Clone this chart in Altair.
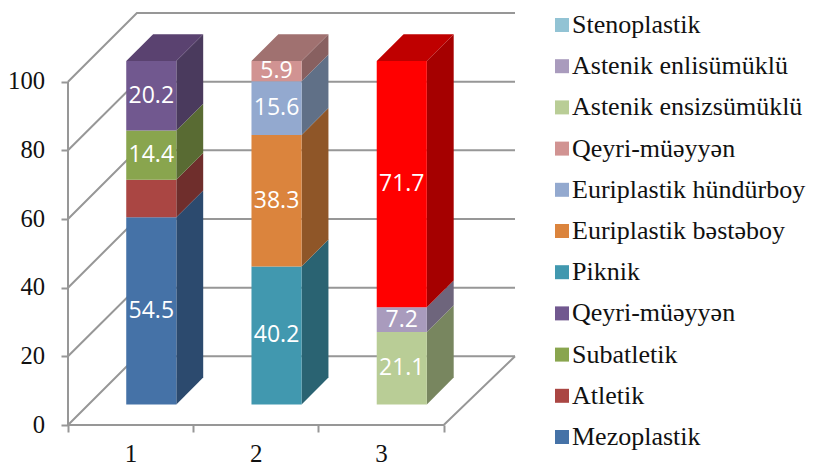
import altair as alt
import pandas as pd

categories = [1, 2, 3]
y_ticks = [0, 20, 40, 60, 80, 100]

bar_series = [
    ["Mezoplastik", "Atletik", "Subatletik", "Qeyri-müəyyən"],
    ["Piknik", "Euriplastik bəstəboy", "Euriplastik hündürboy", "Qeyri-müəyyən "],
    ["Astenik ensizsümüklü", "Astenik enlisümüklü", "Stenoplastik-red"],
]
bar_values = [
    [54.5, 10.9, 14.4, 20.2],
    [40.2, 38.3, 15.6, 5.9],
    [21.1, 7.2, 71.7],
]
bar_labels = [
    ["54.5", "", "14.4", "20.2"],
    ["40.2", "38.3", "15.6", "5.9"],
    ["21.1", "7.2", "71.7"],
]

legend_names = [
    "Stenoplastik", "Astenik enlisümüklü", "Astenik ensizsümüklü", "Qeyri-müəyyən ",
    "Euriplastik hündürboy", "Euriplastik bəstəboy", "Piknik", "Qeyri-müəyyən",
    "Subatletik", "Atletik", "Mezoplastik",
]
legend_colors = [
    "#92C3D4", "#A99BBD", "#B9CD96", "#D19392",
    "#93A9CF", "#DB843D", "#4198AF", "#71588F",
    "#89A54E", "#AA4643", "#4572A7",
]
side_color = {
    "Mezoplastik": "#2C4A6E", "Atletik": "#6F2E2C", "Subatletik": "#596B33",
    "Qeyri-müəyyən": "#4A3A5D", "Piknik": "#2A6372", "Euriplastik bəstəboy": "#8F5628",
    "Euriplastik hündürboy": "#607087", "Qeyri-müəyyən ": "#886060",
    "Astenik ensizsümüklü": "#78865F", "Astenik enlisümüklü": "#6E657C",
    "Stenoplastik-red": "#A50000",
}
top_color = {"Qeyri-müəyyən": "#5A4270", "Qeyri-müəyyən ": "#A07170", "Stenoplastik-red": "#BF0000"}

# oblique projection of the 3D box: depth d shifts a point right and up
DX, DY = 0.55, 20.0
BAR_W, D_FRONT, D_DEPTH = 0.40, 0.30, 0.39
XMAX = 3.569
GRID = "#979797"
SERIF = "Liberation Serif"

grid_rows = []
for v in y_ticks:
    grid_rows += [
        dict(g=f"g{v}", o=0, x=0, y=v),
        dict(g=f"g{v}", o=1, x=DX, y=v + DY),
        dict(g=f"g{v}", o=2, x=XMAX, y=v + DY),
    ]
grid_rows += [dict(g="wall", o=0, x=0, y=0), dict(g="wall", o=1, x=0, y=100)]
grid_rows += [dict(g="floor", o=0, x=0, y=0), dict(g="floor", o=1, x=3, y=0), dict(g="floor", o=2, x=XMAX, y=DY)]

front_rows, side_rows, top_rows, text_rows = [], [], [], []
for i, cat in enumerate(categories):
    x0 = i + 0.5 - BAR_W / 2 + DX * D_FRONT
    x1 = x0 + BAR_W
    base = DY * D_FRONT
    dxb, dyb = DX * D_DEPTH, DY * D_DEPTH
    acc = 0.0
    for name, val, lab in zip(bar_series[i], bar_values[i], bar_labels[i]):
        y0, y1 = base + acc, base + acc + val
        front_rows.append(dict(series=name, x=x0, x2=x1, y=y0, y2=y1))
        side_rows += [
            dict(c=side_color[name], x=x1, y=y0, y2=y1),
            dict(c=side_color[name], x=x1 + dxb, y=y0 + dyb, y2=y1 + dyb),
        ]
        if lab:
            text_rows.append(dict(t=lab, x=(x0 + x1) / 2, y=(y0 + y1) / 2))
        acc += val
    top = base + acc
    c = top_color[bar_series[i][-1]]
    top_rows += [
        dict(c=c, x=x0, y=top, y2=top),
        dict(c=c, x=x0 + dxb, y=top, y2=top + dyb),
        dict(c=c, x=x1, y=top, y2=top + dyb),
        dict(c=c, x=x1 + dxb, y=top + dyb, y2=top + dyb),
    ]

xs = alt.Scale(domain=[0, XMAX], nice=False, zero=False)
ys = alt.Scale(domain=[0, 120], nice=False, zero=False)

x_axis = alt.Axis(
    values=[0, 0.5, 1, 1.5, 2, 2.5, 3], title=None, domain=False, grid=False,
    tickColor=GRID, tickWidth=2, tickSize=7,
    tickOpacity={"condition": {"test": "datum.value % 1 == 0", "value": 1}, "value": 0},
    labelExpr="datum.value % 1 == 0.5 ? ceil(datum.value) : ''",
    labelFont=SERIF, labelFontSize=25, labelColor="#111111", labelPadding=9,
    labelOverlap=False, labelBound=False, labelFlush=False,
)
y_axis = alt.Axis(
    values=y_ticks, title=None, domain=False, grid=False,
    tickColor=GRID, tickWidth=2, tickSize=7,
    labelFont=SERIF, labelFontSize=24.6, labelColor="#111111", labelPadding=16.5,
)
X = alt.X("x:Q", scale=xs, axis=x_axis)
Y = alt.Y("y:Q", scale=ys, axis=y_axis)

grid = alt.Chart(pd.DataFrame(grid_rows)).mark_line(color=GRID, strokeWidth=2).encode(
    x=X, y=Y, detail="g:N", order="o:Q",
)
sides = alt.Chart(pd.DataFrame(side_rows)).mark_area(orient="vertical", opacity=1).encode(
    x=X, y=Y, y2="y2:Q", color=alt.Color("c:N", scale=None),
)
tops = alt.Chart(pd.DataFrame(top_rows)).mark_area(orient="vertical", opacity=1).encode(
    x=X, y=Y, y2="y2:Q", color=alt.Color("c:N", scale=None),
)
fronts = alt.Chart(pd.DataFrame(front_rows)).mark_rect().encode(
    x=X, x2="x2:Q", y=Y, y2="y2:Q",
    color=alt.Color(
        "series:N",
        scale=alt.Scale(domain=legend_names + ["Stenoplastik-red"], range=legend_colors + ["#FF0000"]),
        legend=alt.Legend(
            values=legend_names, title=None, orient="none", legendX=481, legendY=-1,
            symbolType="square", symbolSize=196, symbolStrokeWidth=0, symbolOpacity=1,
            labelFont=SERIF, labelFontSize=26, labelColor="#111111", labelOffset=alt.expr("-3"),
            labelLimit=320, rowPadding=15.2, padding=0,
        ),
    ),
)
texts = alt.Chart(pd.DataFrame(text_rows)).mark_text(
    color="white", font="Open Sans", fontSize=23, baseline="middle", align="center"
).encode(x=X, y=Y, text="t:N")

chart = alt.layer(grid, sides, tops, fronts, texts).resolve_scale(color="independent").properties(
    width=447, height=412,
    autosize=alt.AutoSizeParams(type="none"),
    padding={"left": 60, "top": 5, "right": 291, "bottom": 40},
    background="white",
).configure_view(stroke=None)

chart.save("out.html", embed_options={"renderer": "svg", "actions": False})
